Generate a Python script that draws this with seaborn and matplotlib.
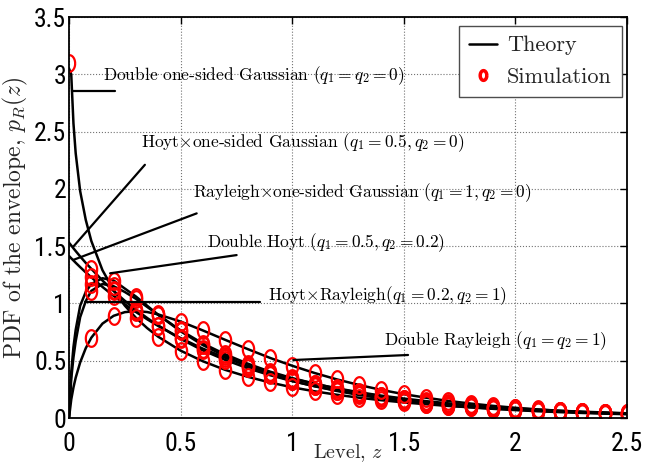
import numpy as np
import pandas as pd
import matplotlib
matplotlib.use("Agg")
import matplotlib.pyplot as plt
import seaborn as sns
from matplotlib import font_manager
from matplotlib.font_manager import FontProperties
from matplotlib.lines import Line2D

nan = float("nan")

# ---------------- data ----------------
z_theory = [0, 0.01, 0.02, 0.03, 0.05, 0.075, 0.1, 0.15, 0.2, 0.25, 0.3, 0.35,
            0.4, 0.5, 0.6, 0.7, 0.8, 0.9, 1.0, 1.1, 1.2, 1.3, 1.4, 1.5, 1.6, 1.7,
            1.8, 1.9, 2.0, 2.1, 2.2, 2.3, 2.4, 2.5]

pdf_double_osg = [3.05, 3.00, 2.57, 2.31, 1.98, 1.73, 1.545, 1.29, 1.116, 0.981, 0.874, 0.785,
                  0.709, 0.588, 0.495, 0.420, 0.360, 0.310, 0.268, 0.233, 0.203, 0.177, 0.155, 0.136, 0.120, 0.105,
                  0.093, 0.082, 0.0725, 0.064, 0.057, 0.050, 0.045, 0.040]
pdf_hoyt_osg = [1.53, 1.506, 1.481, 1.457, 1.41, 1.354, 1.302, 1.20, 1.108, 1.023, 0.945, 0.873,
                0.807, 0.690, 0.590, 0.507, 0.435, 0.374, 0.322, 0.278, 0.240, 0.208, 0.179, 0.154, 0.134, 0.116,
                0.101, 0.087, 0.076, 0.066, 0.058, 0.050, 0.044, 0.038]
pdf_rayleigh_osg = [1.414, 1.394, 1.375, 1.355, 1.317, 1.271, 1.228, 1.144, 1.066, 0.993, 0.925, 0.862,
                    0.803, 0.697, 0.605, 0.526, 0.456, 0.396, 0.344, 0.299, 0.259, 0.225, 0.195, 0.170, 0.147, 0.128,
                    0.111, 0.096, 0.084, 0.073, 0.063, 0.055, 0.048, 0.041]
pdf_double_hoyt = [0, 0.40, 0.62, 0.77, 0.98, 1.10, 1.17, 1.22, 1.20, 1.13, 1.06, 0.98,
                   0.90, 0.757, 0.636, 0.540, 0.454, 0.385, 0.324, 0.277, 0.236, 0.201, 0.172, 0.147, 0.126, 0.108,
                   0.093, 0.080, 0.069, 0.059, 0.051, 0.044, 0.038, 0.033]
pdf_hoyt_rayleigh = [0, 0.34, 0.53, 0.67, 0.88, 1.02, 1.11, 1.17, 1.15, 1.10, 1.04, 0.97,
                     0.90, 0.765, 0.650, 0.556, 0.475, 0.405, 0.348, 0.300, 0.256, 0.220, 0.189, 0.162, 0.139, 0.120,
                     0.103, 0.088, 0.076, 0.065, 0.056, 0.048, 0.041, 0.036]
pdf_double_rayleigh = [0, 0.161, 0.267, 0.352, 0.485, 0.609, 0.701, 0.824, 0.892, 0.924, 0.933, 0.925,
                       0.904, 0.842, 0.764, 0.682, 0.602, 0.525, 0.456, 0.393, 0.337, 0.288, 0.245, 0.208, 0.177, 0.149,
                       0.126, 0.106, 0.089, 0.075, 0.063, 0.053, 0.044, 0.037]

z_sim = [0.0, 0.1, 0.2, 0.3, 0.4, 0.5, 0.6, 0.7, 0.8, 0.9, 1.0, 1.1, 1.2,
         1.3, 1.4, 1.5, 1.6, 1.7, 1.8, 1.9, 2.0, 2.1, 2.2, 2.3, 2.4, 2.5]
sim_double_osg = [3.10, nan, 1.116, 0.874, 0.709, 0.588, 0.495, 0.420, 0.360, 0.310, 0.268, 0.233, 0.203,
                  0.177, 0.155, 0.136, 0.120, 0.105, 0.093, 0.082, 0.0725, 0.064, 0.057, 0.050, 0.045, 0.040]
sim_hoyt_osg = [nan, 1.302, 1.108, 0.945, 0.807, 0.690, 0.590, 0.507, 0.435, 0.374, 0.322, 0.278, 0.240,
                0.208, 0.179, 0.154, 0.134, 0.116, 0.101, 0.087, 0.076, 0.066, 0.058, 0.050, 0.044, 0.038]
sim_rayleigh_osg = [nan, 1.228, 1.066, 0.925, 0.803, 0.697, 0.605, 0.526, 0.456, 0.396, 0.344, 0.299, 0.259,
                    0.225, 0.195, 0.170, 0.147, 0.128, 0.111, 0.096, 0.084, 0.073, 0.063, 0.055, 0.048, 0.041]
sim_double_hoyt = [nan, 1.17, 1.20, 1.06, 0.90, 0.757, 0.636, 0.540, 0.454, 0.385, 0.324, 0.277, 0.236,
                   0.201, 0.172, 0.147, 0.126, 0.108, 0.093, 0.080, 0.069, 0.059, 0.051, 0.044, 0.038, 0.033]
sim_hoyt_rayleigh = [nan, 1.11, 1.15, 1.04, 0.90, 0.765, 0.650, 0.556, 0.475, 0.405, 0.348, 0.300, 0.256,
                     0.220, 0.189, 0.162, 0.139, 0.120, 0.103, 0.088, 0.076, 0.065, 0.056, 0.048, 0.041, 0.036]
sim_double_rayleigh = [nan, 0.701, 0.892, 0.933, 0.904, 0.842, 0.764, 0.682, 0.602, 0.525, 0.456, 0.393, 0.337,
                       0.288, 0.245, 0.208, 0.177, 0.149, 0.126, 0.106, 0.089, 0.075, 0.063, 0.053, 0.044, 0.037]

x_ticks = [0, 0.5, 1, 1.5, 2, 2.5]
x_tick_labels = ["0", "0.5", "1", "1.5", "2", "2.5"]
y_ticks = [0, 0.5, 1, 1.5, 2, 2.5, 3, 3.5]
y_tick_labels = ["0", "0.5", "1", "1.5", "2", "2.5", "3", "3.5"]

annotation_texts = [
    r"Double one-sided Gaussian $(q_1=q_2=0)$",
    r"Hoyt$\times$one-sided Gaussian $(q_1=0.5, q_2=0)$",
    r"Rayleigh$\times$one-sided Gaussian $(q_1=1, q_2=0)$",
    r"Double Hoyt $(q_1=0.5, q_2=0.2)$",
    r"Hoyt$\times$Rayleigh$(q_1=0.2, q_2=1)$",
    r"Double Rayleigh $(q_1=q_2=1)$",
]
annotation_text_xy = [(0.152, 2.99), (0.323, 2.40), (0.556, 1.97), (0.618, 1.53), (0.892, 1.065), (1.411, 0.672)]
annotation_lines = [((0.018, 0.206), (2.85, 2.85)),
                    ((0.340, 0.019), (2.21, 1.495)),
                    ((0.572, 0.018), (1.786, 1.379)),
                    ((0.751, 0.184), (1.422, 1.263)),
                    ((0.072, 0.856), (1.015, 1.015)),
                    ((1.005, 1.519), (0.506, 0.550))]

# ---------------- styling ----------------
sns.set_theme(style="white")
plt.rcParams["mathtext.fontset"] = "cm"
plt.rcParams["font.family"] = ["cmr10", "DejaVu Serif"]
plt.rcParams["axes.formatter.use_mathtext"] = True
plt.rcParams["axes.unicode_minus"] = False

avail = {f.name for f in font_manager.fontManager.ttflist}
tick_family = next((f for f in ["Liberation Sans Narrow", "Arial Narrow", "Roboto Condensed",
                                "Liberation Sans", "DejaVu Sans"] if f in avail), "DejaVu Sans")
tick_fp = FontProperties(family=tick_family, stretch="condensed", size=18.5)

fig = plt.figure(figsize=(6.54, 4.68), dpi=100)
ax = fig.add_axes([69 / 654, 1 - 418 / 468, (627 - 69) / 654, (418 - 17) / 468])
ax.set_facecolor("white")

theory = pd.DataFrame({
    "z": z_theory * 6,
    "pdf": pdf_double_osg + pdf_hoyt_osg + pdf_rayleigh_osg + pdf_double_hoyt + pdf_hoyt_rayleigh + pdf_double_rayleigh,
    "curve": sum([[k] * len(z_theory) for k in range(6)], []),
})
sim = pd.DataFrame({
    "z": z_sim * 6,
    "pdf": sim_double_osg + sim_hoyt_osg + sim_rayleigh_osg + sim_double_hoyt + sim_hoyt_rayleigh + sim_double_rayleigh,
    "curve": sum([[k] * len(z_sim) for k in range(6)], []),
}).dropna()

t = np.linspace(0, 2 * np.pi, 41)
ellipse = np.column_stack([0.68 * np.cos(t), np.sin(t)])

sns.lineplot(data=theory, x="z", y="pdf", units="curve", estimator=None, sort=False,
             color="black", linewidth=1.8, ax=ax, legend=False)
sns.lineplot(data=sim, x="z", y="pdf", units="curve", estimator=None, sort=False,
             color="red", linestyle="", marker=ellipse, markersize=12,
             markerfacecolor="none", markeredgecolor="red", markeredgewidth=1.6, ax=ax, legend=False)

for (xs, ys) in annotation_lines:
    ax.plot(xs, ys, color="black", linewidth=1.6)
for txt, (tx, ty) in zip(annotation_texts, annotation_text_xy):
    ax.text(tx, ty, txt, fontsize=12.5, ha="left", va="center", color="black")

ax.set_xlim(0, 2.5)
ax.set_ylim(0, 3.5)
ax.set_xticks(x_ticks)
ax.set_xticklabels(x_tick_labels)
ax.set_yticks(y_ticks)
ax.set_yticklabels(y_tick_labels)
for lbl in ax.get_xticklabels() + ax.get_yticklabels():
    lbl.set_fontproperties(tick_fp)
ax.tick_params(direction="in", length=5, width=1, top=True, right=True, colors="black")
ax.tick_params(axis="x", pad=10)
ax.tick_params(axis="y", pad=2)
ax.grid(True, linestyle=":", color="0.45", linewidth=0.8)
for s in ax.spines.values():
    s.set_color("black")
    s.set_linewidth(1.3)

ax.set_xlabel(r"Level, $z$", fontsize=14.5)
ax.xaxis.set_label_coords(0.5, -0.06)
ax.set_ylabel(r"PDF of the envelope, $p_R(z)$", fontsize=17)
ax.yaxis.set_label_coords(-0.07, 0.5)

handles = [Line2D([], [], color="black", linewidth=1.8),
           Line2D([], [], linestyle="", marker=ellipse, markersize=7, markerfacecolor="none",
                  markeredgecolor="red", markeredgewidth=2.5)]
leg = ax.legend(handles, ["Theory", "Simulation"], loc="upper right", bbox_to_anchor=(0.991, 0.978),
                borderaxespad=0, fancybox=False, framealpha=1, edgecolor="0.3",
                prop={"family": ["cmr10"], "size": 16}, handlelength=1.25, borderpad=0.45,
                labelspacing=0.55, handletextpad=0.45)
leg.get_frame().set_linewidth(1.0)

fig.savefig("out.png", dpi=100, facecolor="white")
